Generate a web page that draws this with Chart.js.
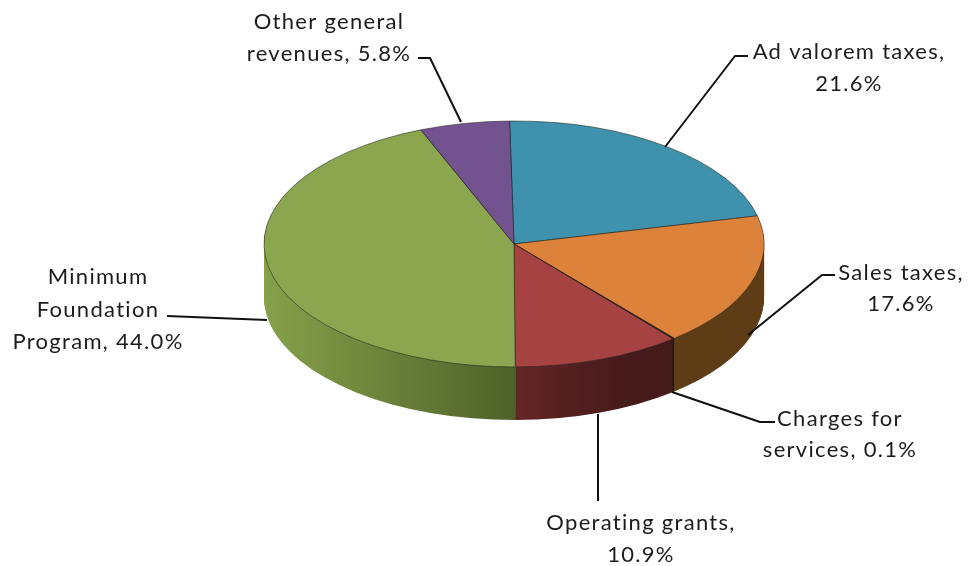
<!DOCTYPE html>
<html>
<head>
<meta charset="utf-8">
<style>html,body{margin:0;padding:0;background:#fff}canvas{display:block}</style>
<script src="https://cdn.jsdelivr.net/npm/chart.js@4"></script>
</head>
<body>
<canvas id="c" width="968" height="566"></canvas>
<script>
const categories = ["Ad valorem taxes","Sales taxes","Charges for services","Operating grants","Minimum Foundation Program","Other general revenues"];
const values = [21.6,17.6,0.1,10.9,44.0,5.8];
const topColors = ["#3f92ad","#dc823b","#2a0f0c","#a64342","#8ca64f","#73538f"];
const wallLeft = ["#2c6678","#5e3d16","#1f0a08","#652626","#87a04a","#4d3761"];
const wallRight = ["#2c6678","#5e3c15","#1f0a08","#451a1a","#4e6229","#4d3761"];
const labelLines = [
 ["Ad valorem taxes,","21.6%"],
 ["Sales taxes,","17.6%"],
 ["Charges for","services, 0.1%"],
 ["Operating grants,","10.9%"],
 ["Minimum","Foundation","Program, 44.0%"],
 ["Other general","revenues, 5.8%"]
];
const labelPos = [
 [849,[59,91]],[901,[280,311]],[840,[426,457]],[641,[530,562]],[98,[284,317,349]],[329,[29,61]]
];
const leaders = [
 [[748,56],[735,56],[665,147]],
 [[835,275],[822,275],[748,335]],
 [[775,422],[760,422],[672,392]],
 [[598,501],[598,414]],
 [[167,316],[267,320]],
 [[418,58],[430,58],[461,122]]
];
const squash = 0.492, depth = 53, radius = 250;

function squashed(ctx, cy, dy){
  ctx.translate(0, cy + dy);
  ctx.scale(1, squash);
  ctx.translate(0, -cy);
}
const pie3d = {
  id:'pie3d',
  beforeDatasetDraw(chart, args){
    const ctx = chart.ctx, arcs = chart.getDatasetMeta(args.index).data;
    const cx = arcs[0].x, cy = arcs[0].y;
    arcs.forEach((arc,i)=>{
      const g = ctx.createLinearGradient(cx-radius,0,cx+radius,0);
      g.addColorStop(0, wallLeft[i]);
      if(i===3){ g.addColorStop(0.5, wallLeft[i]); g.addColorStop(0.72, wallRight[i]); }
      g.addColorStop(0.5, i===4 ? wallRight[i] : (i===3 ? wallLeft[i] : wallLeft[i]));
      g.addColorStop(1, wallRight[i]);
      const saved = arc.options;
      arc.options = {backgroundColor:g,borderColor:'transparent',borderWidth:0,borderAlign:'center',spacing:0,offset:0,borderRadius:0,circular:true,borderDash:[],borderDashOffset:0,borderJoinStyle:'round'};
      for(let d=depth;d>=1;d--){
        ctx.save(); squashed(ctx,cy,d); arc.draw(ctx); ctx.restore();
      }
      arc.options = saved;
    });
    ctx.save();
    squashed(ctx,cy,0);
  },
  afterDatasetDraw(chart){ chart.ctx.restore(); },
  afterDraw(chart){
    const ctx = chart.ctx;
    ctx.save();
    ctx.strokeStyle = '#111'; ctx.lineWidth = 2; ctx.lineJoin='round';
    leaders.forEach(p=>{
      ctx.beginPath();
      p.forEach((q,i)=> i?ctx.lineTo(q[0],q[1]):ctx.moveTo(q[0],q[1]));
      ctx.stroke();
    });
    ctx.fillStyle = '#1c1c1c';
    ctx.font = '22px Lato';
    ctx.letterSpacing = '1.3px';
    ctx.textAlign = 'center';
    ctx.textBaseline = 'alphabetic';
    labelLines.forEach((lines,i)=>{
      lines.forEach((t,j)=> ctx.fillText(t,labelPos[i][0],labelPos[i][1][j]));
    });
    ctx.restore();
  }
};
new Chart(document.getElementById('c'),{
  type:'pie',
  data:{labels:categories,datasets:[{data:values,backgroundColor:topColors,borderColor:'rgba(30,35,30,0.75)',borderWidth:1,clip:false}]},
  options:{
    responsive:false,animation:false,devicePixelRatio:1,
    radius:radius,rotation:-1,
    layout:{padding:{left:60,right:0,top:0,bottom:78}},
    plugins:{legend:{display:false},tooltip:{enabled:false},title:{display:false}}
  },
  plugins:[pie3d]
});
</script>
</body>
</html>
